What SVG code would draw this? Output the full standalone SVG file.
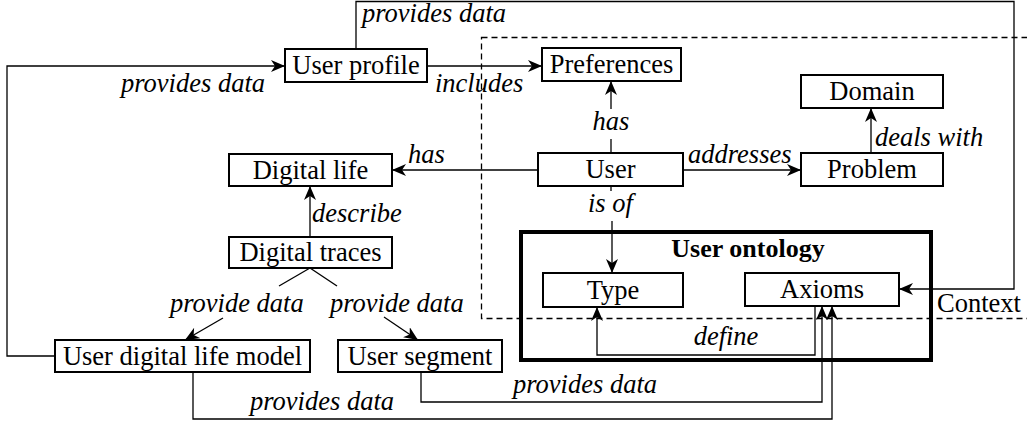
<svg xmlns="http://www.w3.org/2000/svg" width="1027" height="426" viewBox="0 0 1027 426">
  <style>
    .box { fill: #fff; stroke: #000; stroke-width: 2; }
    .frame { fill: none; stroke: #000; stroke-width: 4; }
    .ctx { fill: none; stroke: #000; stroke-width: 1.3; stroke-dasharray: 6 4; }
    .edge { fill: none; stroke: #000; stroke-width: 1.3; }
    .arr { marker-end: url(#head); }
    text { font-family: 'Liberation Serif', Tinos, 'Times New Roman', Times, 'Nimbus Roman', 'Nimbus Roman No9 L', FreeSerif, 'Noto Serif', 'DejaVu Serif', serif; font-size: 26.5px; fill: #000; }
    .name { text-anchor: middle; }
    .title { font-size: 26px; font-weight: bold; text-anchor: middle; }
    .lbl { font-style: italic; }
  </style>
  <defs>
    <marker id="head" markerUnits="userSpaceOnUse" markerWidth="15" markerHeight="13" refX="14" refY="6" orient="auto">
      <path d="M0,0 L14,6 L0,12 L4,6 z" fill="#000"/>
    </marker>
  </defs>
  <rect width="1027" height="426" fill="#fff"/>

  <!-- context area -->
  <g id="context">
    <rect class="ctx" x="481.5" y="37.5" width="560" height="281"/>
    <text x="937" y="312">Context</text>
  </g>

  <!-- ontology frame -->
  <g id="user-ontology">
    <rect class="frame" x="521" y="232" width="410" height="128"/>
    <text class="title" x="748" y="257">User ontology</text>
  </g>

  <g id="connectors">
    <path class="edge arr" d="M55,356 H7 V66 H285"/>
    <path class="edge arr" d="M427,66 H542"/>
    <path class="edge arr" d="M356,49 V1.5 H1014 V289 H899"/>
    <path class="edge" d="M611,153 V139"/>
    <path class="edge arr" d="M611,109 V81"/>
    <path class="edge arr" d="M538,170 H392"/>
    <path class="edge arr" d="M683,170 H801"/>
    <path class="edge arr" d="M871,153 V108"/>
    <path class="edge" d="M611,186 V191"/>
    <path class="edge arr" d="M612,221 V273"/>
    <path class="edge arr" d="M310,237 V186"/>
    <path class="edge" d="M310,268 L279,286"/>
    <path class="edge arr" d="M223,318 L185,340"/>
    <path class="edge" d="M310,268 L337,286"/>
    <path class="edge arr" d="M384,317 L418,340"/>
    <path class="edge arr" d="M815,306 V355 H597 V307"/>
    <path class="edge arr" d="M421,372 V402 H822 V306"/>
    <path class="edge arr" d="M193,372 V419 H832 V306"/>

    <text class="lbl" x="362" y="22">provides data</text>
    <text class="lbl" x="121" y="92">provides data</text>
    <text class="lbl" x="435" y="92">includes</text>
    <text class="lbl" x="611" y="130" text-anchor="middle">has</text>
    <text class="lbl" x="408" y="163">has</text>
    <text class="lbl" x="688" y="163">addresses</text>
    <text class="lbl" x="875" y="146">deals with</text>
    <text class="lbl" x="588" y="212">is of</text>
    <text class="lbl" x="312" y="222">describe</text>
    <text class="lbl" x="170" y="312">provide data</text>
    <text class="lbl" x="330" y="312">provide data</text>
    <text class="lbl" x="726" y="345" text-anchor="middle">define</text>
    <text class="lbl" x="513" y="393">provides data</text>
    <text class="lbl" x="250" y="410">provides data</text>
  </g>

  <g id="user-profile">
    <rect class="box" x="285" y="49" width="142" height="33"/>
    <text class="name" x="356" y="74">User profile</text>
  </g>
  <g id="preferences">
    <rect class="box" x="542" y="48" width="139" height="33"/>
    <text class="name" x="611.5" y="73">Preferences</text>
  </g>
  <g id="domain">
    <rect class="box" x="801" y="75" width="142" height="33"/>
    <text class="name" x="872" y="100">Domain</text>
  </g>
  <g id="digital-life">
    <rect class="box" x="229" y="154" width="163" height="32"/>
    <text class="name" x="310.5" y="179">Digital life</text>
  </g>
  <g id="user">
    <rect class="box" x="538" y="153" width="145" height="33"/>
    <text class="name" x="610.5" y="178">User</text>
  </g>
  <g id="problem">
    <rect class="box" x="801" y="153" width="142" height="33"/>
    <text class="name" x="872" y="178">Problem</text>
  </g>
  <g id="digital-traces">
    <rect class="box" x="229" y="237" width="163" height="31"/>
    <text class="name" x="310.5" y="261">Digital traces</text>
  </g>
  <g id="user-digital-life-model">
    <rect class="box" x="55" y="340" width="255" height="32"/>
    <text class="name" x="182.5" y="365">User digital life model</text>
  </g>
  <g id="user-segment">
    <rect class="box" x="338" y="340" width="164" height="32"/>
    <text class="name" x="420" y="365">User segment</text>
  </g>
  <g id="type">
    <rect class="box" x="543" y="273" width="140" height="34"/>
    <text class="name" x="613" y="299">Type</text>
  </g>
  <g id="axioms">
    <rect class="box" x="745" y="273" width="154" height="33"/>
    <text class="name" x="822" y="298">Axioms</text>
  </g>
</svg>
